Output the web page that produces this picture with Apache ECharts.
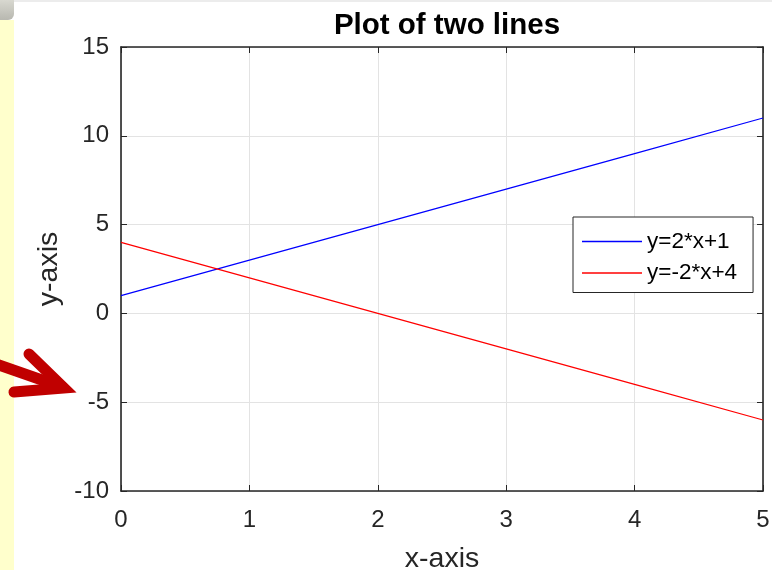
<!DOCTYPE html>
<html>
<head>
<meta charset="utf-8">
<script src="https://cdn.jsdelivr.net/npm/echarts@6/dist/echarts.min.js"></script>
<style>
  html, body { margin: 0; padding: 0; background: #ffffff; }
  #chart { width: 772px; height: 570px; }
</style>
</head>
<body>
<div id="chart"></div>
<script>
// x samples and the two straight lines
const xValues = [0, 1, 2, 3, 4, 5];
const lineA = [1, 3, 5, 7, 9, 11];      // y=2*x+1
const lineB = [4, 2, 0, -2, -4, -6];    // y=-2*x+4
const seriesNames = ['y=2*x+1', 'y=-2*x+4'];
const seriesColors = ['#0000ff', '#ff0000'];
const xTicks = [0, 1, 2, 3, 4, 5];
const yTicks = [-10, -5, 0, 5, 10, 15];

const font = '"Liberation Sans", Arial, Helvetica, sans-serif';
const ink = '#262626';

const chart = echarts.init(document.getElementById('chart'), null, { renderer: 'canvas' });

const pairs = (ys) => xValues.map((x, i) => [x, ys[i]]);

const boxAxis = {
  axisLine: { show: true, onZero: false, lineStyle: { color: ink, width: 1.6 } },
  axisTick: { show: true, inside: true, length: 6, lineStyle: { color: ink, width: 1 } }
};

chart.setOption({
  animation: false,
  backgroundColor: '#ffffff',
  title: {
    text: 'Plot of two lines',
    left: 442,
    top: 6,
    textAlign: 'center',
    textStyle: { fontFamily: font, fontSize: 29.5, fontWeight: 'bold', color: '#000000' }
  },
  grid: { left: 121, right: 9, top: 47, bottom: 79, outerBoundsMode: 'none', containLabel: false },
  legend: {
    orient: 'vertical',
    left: 573,
    top: 217,
    backgroundColor: '#ffffff',
    borderColor: ink,
    borderWidth: 1,
    borderRadius: 0,
    padding: [13, 16, 8, 9],
    itemWidth: 60,
    itemHeight: 1.3,
    itemGap: 8.5,
    textStyle: { fontFamily: font, fontSize: 22.5, color: '#000000' },
    data: seriesNames.map((name, i) => ({ name: name, icon: 'rect', itemStyle: { color: seriesColors[i] } }))
  },
  xAxis: [
    Object.assign({
      type: 'value', min: xTicks[0], max: xTicks[xTicks.length - 1], interval: 1,
      position: 'bottom',
      name: 'x-axis', nameLocation: 'middle', nameGap: 54,
      nameTextStyle: { fontFamily: font, fontSize: 28.5, color: ink },
      axisLabel: { margin: 17, fontFamily: font, fontSize: 24, color: ink },
      splitLine: { show: true, lineStyle: { color: '#e3e3e3', width: 1 } }
    }, boxAxis),
    Object.assign({
      type: 'value', min: xTicks[0], max: xTicks[xTicks.length - 1], interval: 1,
      position: 'top', axisLabel: { show: false }, splitLine: { show: false }
    }, boxAxis)
  ],
  yAxis: [
    Object.assign({
      type: 'value', min: yTicks[0], max: yTicks[yTicks.length - 1], interval: 5,
      position: 'left',
      name: 'y-axis', nameLocation: 'middle', nameGap: 57,
      nameTextStyle: { fontFamily: font, fontSize: 28.5, color: ink },
      axisLabel: { margin: 12, fontFamily: font, fontSize: 24, color: ink },
      splitLine: { show: true, lineStyle: { color: '#e3e3e3', width: 1 } }
    }, boxAxis),
    Object.assign({
      type: 'value', min: yTicks[0], max: yTicks[yTicks.length - 1], interval: 5,
      position: 'right', axisLabel: { show: false }, splitLine: { show: false }
    }, boxAxis)
  ],
  series: [
    {
      name: seriesNames[0], type: 'line', data: pairs(lineA),
      symbol: 'none', lineStyle: { color: seriesColors[0], width: 1.2 }, itemStyle: { color: seriesColors[0] }
    },
    {
      name: seriesNames[1], type: 'line', data: pairs(lineB),
      symbol: 'none', lineStyle: { color: seriesColors[1], width: 1.2 }, itemStyle: { color: seriesColors[1] }
    }
  ],
  graphic: [
    // window chrome on the left and top
    { type: 'rect', left: 0, top: 0, z: -10, shape: { width: 772, height: 2 }, style: { fill: '#ececec' } },
    { type: 'rect', left: 0, top: 20, z: -10, shape: { width: 14, height: 550 }, style: { fill: '#ffffcc' } },
    {
      type: 'rect', left: 0, top: 0, z: -10, shape: { width: 14, height: 20, r: [0, 0, 6, 0] },
      style: {
        fill: new echarts.graphic.LinearGradient(0, 0, 0, 1, [
          { offset: 0, color: '#d8d8d0' }, { offset: 1, color: '#b8b8b0' }
        ])
      }
    },
    // red pointer arrow
    {
      type: 'group', z: 100,
      children: [
        { type: 'polyline', shape: { points: [[-4, 364], [62, 387]] },
          style: { stroke: '#c00000', lineWidth: 11, lineCap: 'round', fill: null } },
        { type: 'polyline', shape: { points: [[29, 354], [64, 388], [14, 392]] },
          style: { stroke: '#c00000', lineWidth: 11, lineCap: 'round', lineJoin: 'miter', fill: null } }
      ]
    }
  ]
});
</script>
</body>
</html>
